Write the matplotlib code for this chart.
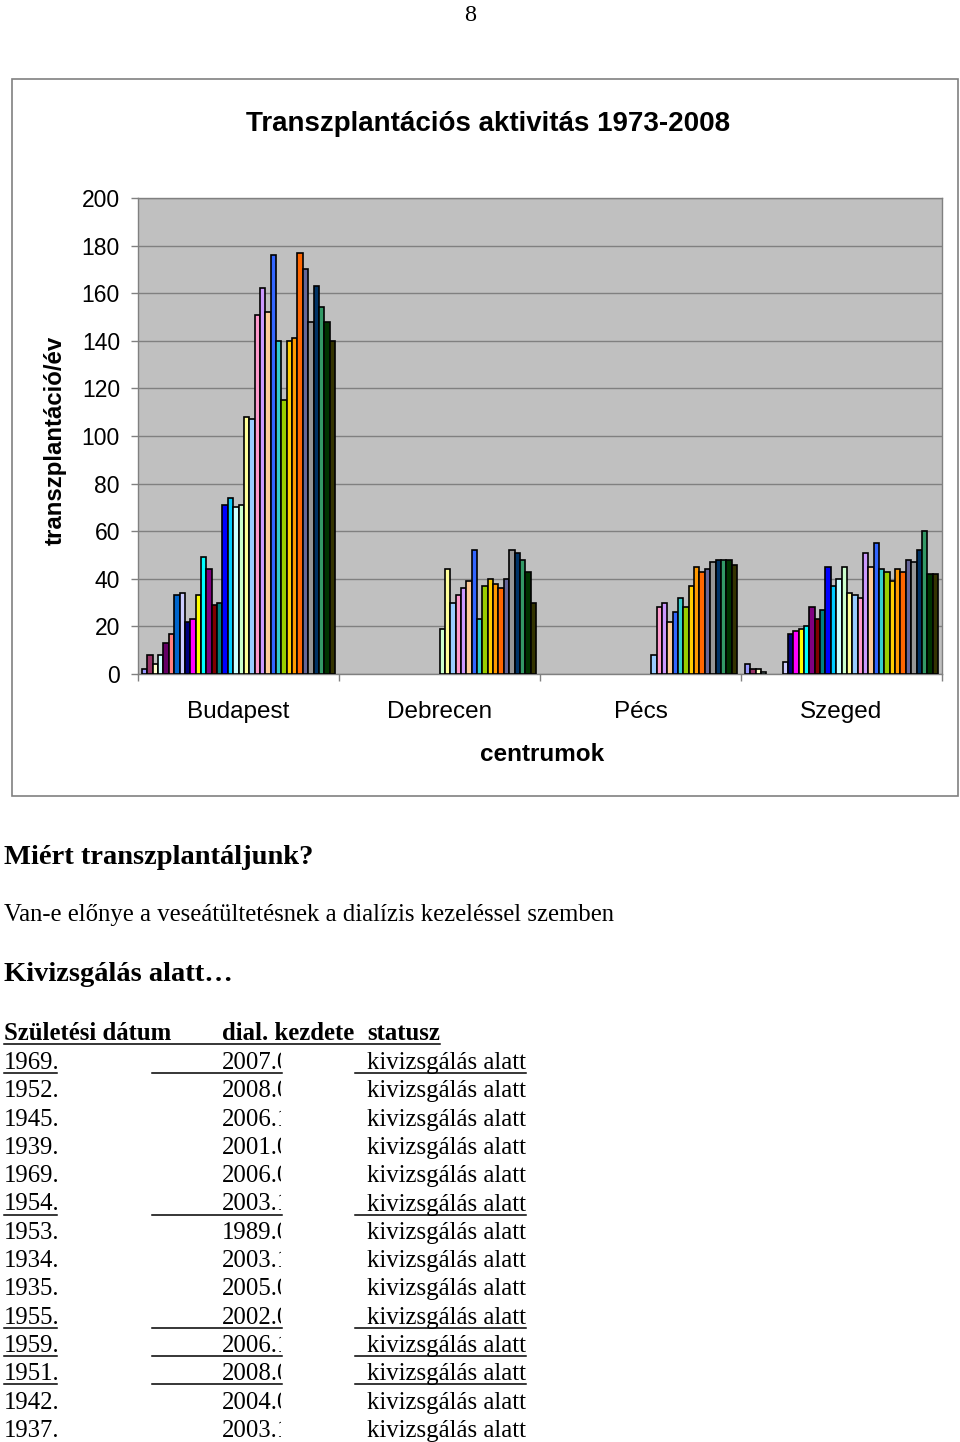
import matplotlib
matplotlib.use("Agg")
import matplotlib.pyplot as plt
from matplotlib.patches import Rectangle
from matplotlib.transforms import Bbox

# ── Chart data (transplants per year, 1973-2008) ─────────────
centers = ["Budapest", "Debrecen", "Pécs", "Szeged"]
years = [str(y) for y in range(1973, 2009)]

budapest = [2, 8, 4, 8, 13, 17, 33, 34, 22, 23, 33, 49, 44, 29, 30, 71, 74, 70,
            71, 108, 107, 151, 162, 152, 176, 140, 115, 140, 141, 177, 170, 148,
            163, 154, 148, 140]
debrecen = [0, 0, 0, 0, 0, 0, 0, 0, 0, 0, 0, 0, 0, 0, 0, 0, 0, 0,
            19, 44, 30, 33, 36, 39, 52, 23, 37, 40, 38, 36, 40, 52, 51, 48, 43, 30]
pecs = [0, 0, 0, 0, 0, 0, 0, 0, 0, 0, 0, 0, 0, 0, 0, 0, 0, 0, 0, 0,
        8, 28, 30, 22, 26, 32, 28, 37, 45, 43, 44, 47, 48, 48, 48, 46]
szeged = [4, 2, 2, 1, 0, 0, 0, 5, 17, 18, 19, 20, 28, 23, 27, 45, 37, 40,
          45, 34, 33, 32, 51, 45, 55, 44, 43, 39, 44, 43, 48, 47, 52, 60, 42, 42]

# Excel 2003 default series fills, one per year
bar_colors = ["#9999FF", "#993366", "#FFFFCC", "#CCFFFF", "#660066", "#FF8080",
              "#0066CC", "#CCCCFF", "#000080", "#FF00FF", "#FFFF00", "#00FFFF",
              "#800080", "#800000", "#008080", "#0000FF", "#00CCFF", "#CCFFFF",
              "#CCFFCC", "#FFFF99", "#99CCFF", "#FF99CC", "#CC99FF", "#FFCC99",
              "#3366FF", "#33CCCC", "#99CC00", "#FFCC00", "#FF9900", "#FF6600",
              "#666699", "#969696", "#003366", "#339966", "#003300", "#333300"]

# ── Table data below the chart ───────────────────────────────
birth = ["1969.", "1952.", "1945.", "1939.", "1969.", "1954.", "1953.",
         "1934.", "1935.", "1955.", "1959.", "1951.", "1942.", "1937."]
dial_start = ["2007.0", "2008.0", "2006.1", "2001.0", "2006.0", "2003.1", "1989.0",
              "2003.1", "2005.0", "2002.0", "2006.1", "2008.0", "2004.0", "2003.1"]
status = ["kivizsgálás alatt"] * 14
underlined = [True, False, False, False, False, True, False,
              False, False, True, True, True, False, False]

SANS = "Liberation Sans"
SERIF = "Liberation Serif"

W, H = 960, 1442
fig = plt.figure(figsize=(W / 100, H / 100), dpi=100)
fig.patch.set_facecolor("white")

# page axes in pixel coordinates
page = fig.add_axes([0, 0, 1, 1])
page.set_xlim(0, W)
page.set_ylim(H, 0)
page.axis("off")

page.text(470, 21, "8", family=SERIF, fontsize=17.5, ha="center", va="baseline")
page.add_patch(Rectangle((12, 79), 946, 717, fill=False, ec="#808080", lw=1.2))

# ── Bar chart ────────────────────────────────────────────────
ax = fig.add_axes([138 / W, 1 - 674 / H, 804 / W, 476 / H])
ax.set_facecolor("#c0c0c0")
ax.set_xlim(0, 4)
ax.set_ylim(0, 200)

n = len(years)
bw = 1 / (n + 1.5)   # gap width 150 %
series = [budapest, debrecen, pecs, szeged]
for i in range(n):
    xs = [c + 0.75 * bw + i * bw for c in range(len(centers))]
    hs = [s[i] for s in series]
    bars = ax.bar(xs, hs, width=bw, align="edge", color=bar_colors[i],
                  edgecolor="black", linewidth=1.2, zorder=3, label=years[i])
    for b, h in zip(bars, hs):
        if h == 0:
            b.set_visible(False)

ax.set_yticks(range(0, 201, 20))
ax.yaxis.grid(True, color="#808080", lw=1, zorder=1)
ax.set_axisbelow(True)
ax.tick_params(axis="y", length=5, width=1, color="#808080", pad=8,
               labelsize=16.5)
for lab in ax.get_yticklabels():
    lab.set_family(SANS)

ax.set_xticks([0, 1, 2, 3, 4])
ax.set_xticklabels([])
ax.set_xticks([0.5, 1.5, 2.5, 3.5], minor=True)
ax.set_xticklabels(centers, minor=True, family=SANS, fontsize=17.5)
ax.tick_params(axis="x", which="major", length=5, width=1, color="#808080")
ax.tick_params(axis="x", which="minor", length=0, pad=19.5)

for sp in ax.spines.values():
    sp.set_color("#808080")
    sp.set_linewidth(1)

page.text(488, 131, "Transzplantációs aktivitás 1973-2008", family=SANS,
          fontsize=20, weight="bold", ha="center", va="baseline")
page.text(542, 761, "centrumok", family=SANS, fontsize=17.5, weight="bold",
          ha="center", va="baseline")
page.text(55, 440, "transzplantáció/év", family=SANS, fontsize=17.3,
          weight="bold", ha="center", va="center", rotation=90)

# ── Document text ────────────────────────────────────────────
page.text(4, 864, "Miért transzplantáljunk?", family=SERIF, fontsize=20.5,
          weight="bold", va="baseline")
page.text(4, 921, "Van-e előnye a veseátültetésnek a dialízis kezeléssel szemben",
          family=SERIF, fontsize=17.8, va="baseline")
page.text(4, 981, "Kivizsgálás alatt…", family=SERIF, fontsize=20.5,
          weight="bold", va="baseline")

head_y = 1040
page.text(4, head_y, "Születési dátum", family=SERIF, fontsize=17.8,
          weight="bold", va="baseline")
page.text(222, head_y, "dial. kezdete", family=SERIF, fontsize=17.8,
          weight="bold", va="baseline")
page.text(367, head_y, "statusz", family=SERIF, fontsize=17.8,
          weight="bold", va="baseline")
page.plot([4, 440], [head_y + 4, head_y + 4], color="black", lw=1.1)

clip = Bbox.from_extents(0, 0, 281, H)
for k in range(len(birth)):
    y = 1069 + k * 28.3
    page.text(4, y, birth[k], family=SERIF, fontsize=17.8, va="baseline")
    t = page.text(222, y, dial_start[k], family=SERIF, fontsize=17.8,
                  va="baseline", clip_on=True)
    t.set_clip_box(clip)
    page.text(367, y, status[k], family=SERIF, fontsize=17.8, va="baseline")
    if underlined[k]:
        page.plot([4, 57], [y + 4, y + 4], color="black", lw=1.1)
        page.plot([152, 282], [y + 4, y + 4], color="black", lw=1.1)
        page.plot([355, 526], [y + 4, y + 4], color="black", lw=1.1)

fig.savefig("out.png", dpi=100, facecolor="white")
